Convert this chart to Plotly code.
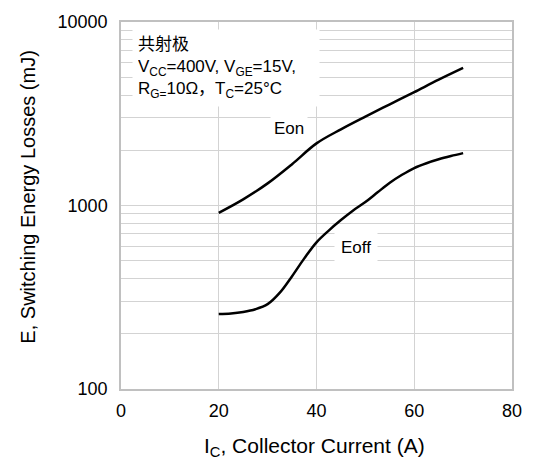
import plotly.graph_objects as go

ic_on = [20, 25, 30, 35, 40, 45, 50, 55, 60, 65, 70]
eon = [912, 1080, 1320, 1680, 2180, 2600, 3050, 3560, 4150, 4850, 5620]

ic_off = [20, 22.5, 25, 27.5, 30, 32.5, 35, 37.5, 40, 42.5, 45, 47.5, 50, 52.5, 55, 57.5, 60, 62.5, 65, 67.5, 70]
eoff = [256, 258, 263, 272, 290, 335, 412, 515, 630, 730, 833, 940, 1045, 1180, 1330, 1470, 1600, 1700, 1785, 1860, 1930]

x_ticks = [0, 20, 40, 60, 80]
y_ticks = [100, 1000, 10000]
y_minor = [m * d for d in (100, 1000) for m in range(2, 10)]

FONT = "Liberation Sans, Arial, sans-serif"
GRID = "#d3d3d3"
FRAME = "#c0c0c0"

fig = go.Figure()
fig.add_trace(go.Scatter(x=ic_on, y=eon, mode="lines",
                         line=dict(color="black", width=2.5, shape="spline", smoothing=1.0), showlegend=False))
fig.add_trace(go.Scatter(x=ic_off, y=eoff, mode="lines",
                         line=dict(color="black", width=2.5, shape="spline", smoothing=1.0), showlegend=False))

fig.update_layout(
    width=534, height=463,
    margin=dict(l=121, r=20, t=16, b=74),
    paper_bgcolor="white", plot_bgcolor="white",
    font=dict(family=FONT, size=18, color="black"),
    xaxis=dict(
        range=[0, 80], tickvals=x_ticks, ticktext=[str(v) for v in x_ticks],
        showgrid=True, gridcolor=GRID, gridwidth=1,
        showline=True, linecolor=FRAME, linewidth=1.5, mirror=True,
        zeroline=False, ticks="", ticklabelstandoff=5,
        tickfont=dict(size=18),
    ),
    yaxis=dict(
        type="log", range=[2, 4], tickvals=y_ticks, ticktext=[str(v) for v in y_ticks],
        showgrid=True, gridcolor=GRID, gridwidth=1,
        minor=dict(tickvals=y_minor, showgrid=True, gridcolor=GRID, gridwidth=1, ticks=""),
        showline=True, linecolor=FRAME, linewidth=1.5, mirror=True,
        zeroline=False, ticks="", ticklabelstandoff=8,
        tickfont=dict(size=18),
    ),
    annotations=[
        dict(
            xref="paper", yref="paper", x=0.028, y=0.981, xanchor="left", yanchor="top",
            text="共射极<br>V<sub>CC</sub>=400V, V<sub>GE</sub>=15V,<br>R<sub>G=</sub>10Ω，T<sub>C</sub>=25°C",
            showarrow=False, align="left", bgcolor="white", borderpad=5, width=176,
            font=dict(family="Liberation Sans, Arial, Noto Sans CJK SC", size=17),
        ),
        dict(x=34.4, y=3.42, xref="x", yref="y", text="Eon", showarrow=False,
             bgcolor="white", borderpad=3, font=dict(size=17)),
        dict(x=48.0, y=2.769, xref="x", yref="y", text="Eoff", showarrow=False,
             bgcolor="white", borderpad=6, font=dict(size=17)),
        dict(xref="paper", yref="paper", x=0.496, y=-0.158, xanchor="center", yanchor="middle",
             text="I<sub>C</sub>, Collector Current (A)", showarrow=False, font=dict(size=21)),
        dict(xref="paper", yref="paper", x=-0.238, y=0.524, xanchor="center", yanchor="middle",
             text="E, Switching Energy Losses (mJ)", textangle=-90, showarrow=False, font=dict(size=20)),
    ],
)

fig.write_html("out.html")
